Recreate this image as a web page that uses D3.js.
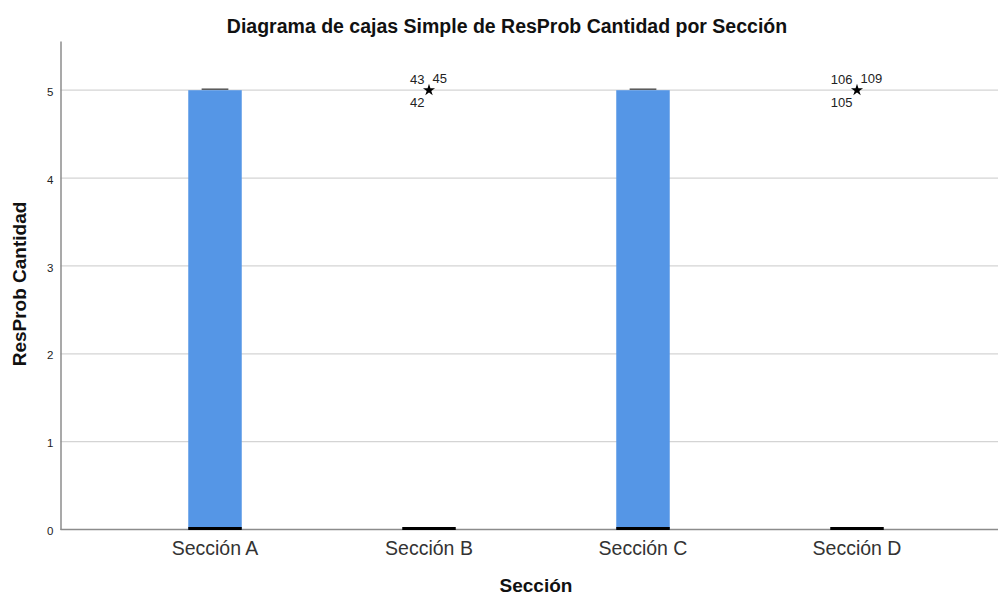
<!DOCTYPE html>
<html><head><meta charset="utf-8">
<script src="https://cdn.jsdelivr.net/npm/d3@7"></script>
<style>body{margin:0;background:#fff;} text{font-family:"Liberation Sans",Arial,sans-serif;}</style>
</head><body><svg id="c" width="998" height="594"></svg>
<script>
const categories = ["Sección A","Sección B","Sección C","Sección D"];
const q1 = [0,0,0,0];
const medians = [0,0,0,0];
const q3 = [5,0,5,0];
const whiskerLow = [0,0,0,0];
const whiskerHigh = [5,0,5,0];
const outliers = [[],[{v:5,labels:["43","45","42"]}],[],[{v:5,labels:["106","109","105"]}]];
const yTicks = [0,1,2,3,4,5];

(function(){
const svg = d3.select("#c");
const mLeft = 60.5, mRight = 998, mTop = 41, mBottom = 529.5;
const y = d3.scaleLinear().domain([0,5.56]).range([mBottom, mTop]);
const x = d3.scaleBand().domain(categories).range([108, 964]).paddingInner(0).paddingOuter(0);
const boxW = x.bandwidth()*0.25;

// gridlines
svg.append("g").selectAll("line").data(yTicks.filter(d=>d>0)).join("line")
  .attr("x1",mLeft).attr("x2",mRight).attr("y1",d=>y(d)).attr("y2",d=>y(d))
  .attr("stroke","#d4d4d4").attr("stroke-width",1.3);

// y axis
const yAxis = d3.axisLeft(y).tickValues(yTicks).tickSize(0).tickPadding(7).tickFormat(d3.format("d"));
const gy = svg.append("g").attr("transform",`translate(${mLeft},0)`).call(yAxis);
gy.select(".domain").attr("stroke","#8c8c8c").attr("stroke-width",1.5);
gy.selectAll("text").attr("font-size",11.5).attr("fill","#222").attr("dy","0.45em");

// x axis
const xAxis = d3.axisBottom(x).tickSize(0).tickPadding(12);
const gx = svg.append("g").attr("transform",`translate(0,${mBottom})`).call(xAxis);
gx.select(".domain").remove();
gx.selectAll("text").attr("font-size",19.5).attr("fill","#333");
svg.append("line").attr("x1",mLeft).attr("x2",mRight).attr("y1",mBottom).attr("y2",mBottom)
  .attr("stroke","#8c8c8c").attr("stroke-width",1.5);

// boxes
categories.forEach((c,i)=>{
  const cx = x(c)+x.bandwidth()/2;
  const g = svg.append("g");
  if (q3[i] > q1[i]) {
    g.append("rect").attr("x",cx-boxW/2).attr("width",boxW)
      .attr("y",y(q3[i])).attr("height",y(q1[i])-y(q3[i]))
      .attr("fill","#5596e6");
    g.append("line").attr("x1",cx-boxW/4).attr("x2",cx+boxW/4)
      .attr("y1",y(whiskerHigh[i])-1).attr("y2",y(whiskerHigh[i])-1)
      .attr("stroke","#555").attr("stroke-width",1.5);
  }
  // median
  g.append("line").attr("x1",cx-boxW/2).attr("x2",cx+boxW/2)
    .attr("y1",y(medians[i])-1).attr("y2",y(medians[i])-1)
    .attr("stroke","#000").attr("stroke-width",3);
  // outliers
  outliers[i].forEach(o=>{
    const oy = y(o.v);
    g.append("path").attr("d",d3.symbol(d3.symbolStar,45)()).attr("transform",`translate(${cx},${oy})`).attr("fill","#000");
    g.append("text").attr("x",cx-4.5).attr("y",oy-6.5).attr("text-anchor","end").attr("font-size",13).attr("fill","#222").text(o.labels[0]);
    g.append("text").attr("x",cx+3.5).attr("y",oy-7.5).attr("text-anchor","start").attr("font-size",13).attr("fill","#222").text(o.labels[1]);
    g.append("text").attr("x",cx-4.5).attr("y",oy+17).attr("text-anchor","end").attr("font-size",13).attr("fill","#222").text(o.labels[2]);
  });
});

// titles
svg.append("text").attr("x",507).attr("y",33).attr("text-anchor","middle").attr("font-size",19.5).attr("font-weight","bold").attr("fill","#111")
  .text("Diagrama de cajas Simple de ResProb Cantidad por Sección");
svg.append("text").attr("transform","translate(26,284) rotate(-90)").attr("text-anchor","middle").attr("font-size",19).attr("font-weight","bold").attr("fill","#111")
  .text("ResProb Cantidad");
svg.append("text").attr("x",536).attr("y",592).attr("text-anchor","middle").attr("font-size",19).attr("font-weight","bold").attr("fill","#111")
  .text("Sección");
})();
</script></body></html>
